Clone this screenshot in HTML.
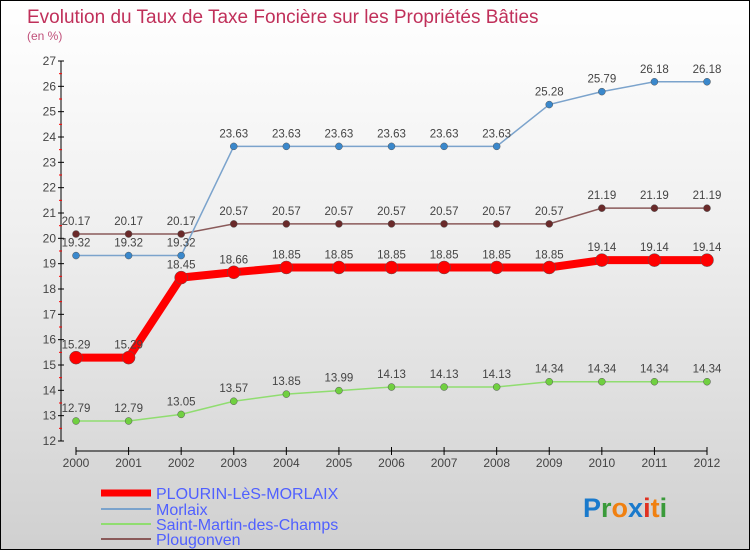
<!DOCTYPE html>
<html><head><meta charset="utf-8"><style>
body{margin:0}
#c{width:750px;height:550px;position:relative;overflow:hidden;box-sizing:border-box;border:1px solid #000;background:linear-gradient(#ffffff 0%,#f0f0f0 40%,#d0d0d0 100%);font-family:"Liberation Sans",sans-serif}
svg text{font-family:"Liberation Sans",sans-serif}
</style></head><body>
<div id="c">
<svg id="s" width="750" height="550" xmlns="http://www.w3.org/2000/svg">
<text x="26" y="22" font-size="19" fill="#c0305a">Evolution du Taux de Taxe Foncière sur les Propriétés Bâties</text>
<text x="26" y="39" font-size="12" fill="#c0507a">(en %)</text>
<g id="axes"></g><g id="series"></g>
<g>
<line x1="100" y1="492" x2="150" y2="492" stroke="#f00" stroke-width="7"/>
<text x="155" y="498" font-size="16" fill="#5060ff">PLOURIN-LèS-MORLAIX</text>
<line x1="100" y1="508" x2="150" y2="508" stroke="#7ba3cc" stroke-width="2"/>
<text x="155" y="514" font-size="16" fill="#5060ff">Morlaix</text>
<line x1="100" y1="523" x2="150" y2="523" stroke="#90dd70" stroke-width="2"/>
<text x="155" y="529" font-size="16" fill="#5060ff">Saint-Martin-des-Champs</text>
<line x1="100" y1="538" x2="150" y2="538" stroke="#8a5a5a" stroke-width="2"/>
<text x="155" y="544" font-size="16" fill="#5060ff">Plougonven</text>
</g>
<text x="582" y="516" font-size="27" font-weight="bold"><tspan fill="#1a7acc">P</tspan><tspan fill="#3a9a3a">r</tspan><tspan fill="#f08010">o</tspan><tspan fill="#1a7acc">x</tspan><tspan fill="#e03020">i</tspan><tspan fill="#f08010">t</tspan><tspan fill="#3a9a3a">i</tspan></text>
</svg></div>
<script>
const years=[2000,2001,2002,2003,2004,2005,2006,2007,2008,2009,2010,2011,2012];
const plourin=[15.29,15.29,18.45,18.66,18.85,18.85,18.85,18.85,18.85,18.85,19.14,19.14,19.14];
const morlaix=[19.32,19.32,19.32,23.63,23.63,23.63,23.63,23.63,23.63,25.28,25.79,26.18,26.18];
const stMartin=[12.79,12.79,13.05,13.57,13.85,13.99,14.13,14.13,14.13,14.34,14.34,14.34,14.34];
const plougonven=[20.17,20.17,20.17,20.57,20.57,20.57,20.57,20.57,20.57,20.57,21.19,21.19,21.19];
const yTicks=[12,13,14,15,16,17,18,19,20,21,22,23,24,25,26,27];
const NS="http://www.w3.org/2000/svg";
const x=i=>75+i*(706-75)/(years.length-1);
const y=v=>440-(v-12)*(380/15);
function mk(t,a,p){const e=document.createElementNS(NS,t);for(const k in a)e.setAttribute(k,a[k]);p.appendChild(e);return e;}
const ax=document.getElementById('axes');
let e=mk('line',{x1:60,y1:60,x2:60,y2:440,stroke:'#000'},ax);


e=mk('line',{x1:75,y1:450,x2:706,y2:450,stroke:'#000'},ax);


yTicks.forEach(v=>{
 mk('line',{x1:57,y1:y(v),x2:63,y2:y(v),stroke:'#000'},ax);
 if(v<27)mk('line',{x1:58,y1:y(v+0.5),x2:61,y2:y(v+0.5),stroke:'#f00'},ax);
 const t=mk('text',{x:55,y:y(v)+4,'font-size':12,fill:'#444','text-anchor':'end'},ax);t.textContent=v;
 
 
});
years.forEach((yr,i)=>{
 mk('line',{x1:x(i),y1:446,x2:x(i),y2:454,stroke:'#000'},ax);
 const t=mk('text',{x:x(i),y:466,'font-size':12,fill:'#444','text-anchor':'middle'},ax);t.textContent=yr;
 
 
});
const sg=document.getElementById('series');
function draw(vals,col,dot,w,r,name){
 const g=mk('g',{},sg);
 
 
 mk('polyline',{points:vals.map((v,i)=>x(i)+','+y(v)).join(' '),fill:'none',stroke:col,'stroke-width':w},g);
 vals.forEach((v,i)=>{
  const c=mk('circle',{cx:x(i),cy:y(v),r:r,fill:dot,stroke:'#555','stroke-width':0.5},g);
  
  
  const t=mk('text',{x:x(i),y:y(v)-9,'font-size':11.5,fill:'#444','text-anchor':'middle'},g);t.textContent=v;
  
  
 });
}
draw(plougonven,'#8a5a5a','#6a2a2a',1.5,3.5,'plougonven');
draw(morlaix,'#7ba3cc','#3a88cc',1.5,3.5,'morlaix');
draw(stMartin,'#90dd70','#70d040',1.5,3.5,'saint-martin');
draw(plourin,'#f00','#f00',8,6.5,'plourin');
</script>
</body></html>
